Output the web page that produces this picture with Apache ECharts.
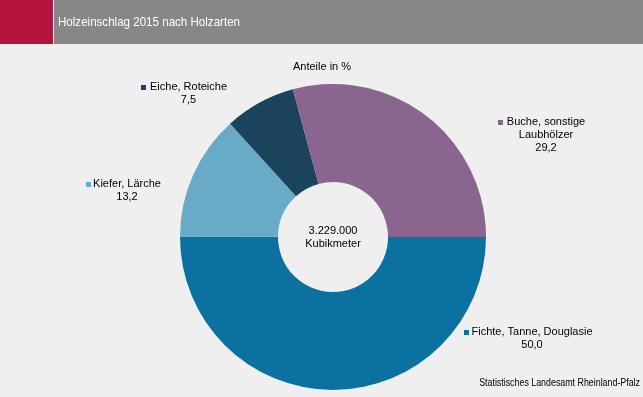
<!DOCTYPE html>
<html><head><meta charset="utf-8">
<script src="https://cdn.jsdelivr.net/npm/echarts@6/dist/echarts.min.js"></script>
<style>html,body{margin:0;padding:0;background:#eeefee;}#c{width:643px;height:397px;}</style>
</head><body><div id="c"></div>
<script>
const categories = ['Fichte, Tanne, Douglasie', 'Kiefer, Lärche', 'Eiche, Roteiche', 'Buche, sonstige\nLaubhölzer'];
const values = [50.0, 13.2, 7.5, 29.2];
const colors = ['#0a71a1', '#68aac8', '#1b435b', '#8a6590'];
const title = 'Holzeinschlag 2015 nach Holzarten';
const subtitle = 'Anteile in %';
const centerLines = ['3.229.000', 'Kubikmeter'];
const source = 'Statistisches Landesamt Rheinland-Pfalz';
// label layout (name centre x, first line centre y, marker x, marker y)
const labelPos = [
  {cx: 532, cy: 332, mx: 464, my: 330},
  {cx: 127, cy: 184, mx: 86, my: 182},
  {cx: 188.5, cy: 87, mx: 141, my: 85},
  {cx: 546, cy: 122, mx: 498, my: 120}
];
const FONT = 'Liberation Sans, Arial, sans-serif';
const fmt = v => v.toFixed(1).replace('.', ',');

const graphics = [
  {type: 'rect', shape: {x: 0, y: 0, width: 53, height: 44}, style: {fill: '#b5123d'}},
  {type: 'rect', shape: {x: 53, y: 0, width: 1, height: 44}, style: {fill: '#ffffff'}},
  {type: 'rect', shape: {x: 54, y: 0, width: 589, height: 44}, style: {fill: '#878787'}},
  {type: 'text', x: 58, y: 22, scaleX: 0.89, style: {text: title, fill: '#ffffff', font: '13px ' + FONT, textVerticalAlign: 'middle'}},
  {type: 'text', x: 322, y: 67, style: {text: subtitle, fill: '#000', font: '11px ' + FONT, textAlign: 'center', textVerticalAlign: 'middle'}},
  {type: 'text', x: 333, y: 231, style: {text: centerLines[0], fill: '#000', font: '11px ' + FONT, textAlign: 'center', textVerticalAlign: 'middle'}},
  {type: 'text', x: 333, y: 244, style: {text: centerLines[1], fill: '#000', font: '11px ' + FONT, textAlign: 'center', textVerticalAlign: 'middle'}},
  {type: 'text', x: 640, y: 383, scaleX: 0.885, style: {text: source, fill: '#000', font: '10px ' + FONT, textAlign: 'right', textVerticalAlign: 'middle'}}
];
categories.forEach((name, i) => {
  const p = labelPos[i];
  graphics.push({type: 'rect', shape: {x: p.mx, y: p.my, width: 5, height: 5}, style: {fill: colors[i]}});
  const lines = name.split('\n').concat([fmt(values[i])]);
  lines.forEach((t, j) => {
    graphics.push({type: 'text', x: p.cx, y: p.cy + j * 13, style: {text: t, fill: '#000', font: '11px ' + FONT, textAlign: 'center', textVerticalAlign: 'middle'}});
  });
});

const chart = echarts.init(document.getElementById('c'), null, {renderer: 'canvas'});
chart.setOption({
  backgroundColor: '#eeefee',
  animation: false,
  graphic: graphics,
  series: [{
    type: 'pie',
    center: [333, 237],
    radius: [55, 153],
    startAngle: 0,
    clockwise: true,
    label: {show: false},
    labelLine: {show: false},
    emphasis: {disabled: true},
    itemStyle: {borderWidth: 0},
    data: categories.map((n, i) => ({name: n, value: values[i], itemStyle: {color: colors[i]}}))
  }]
});
</script>
</body></html>
